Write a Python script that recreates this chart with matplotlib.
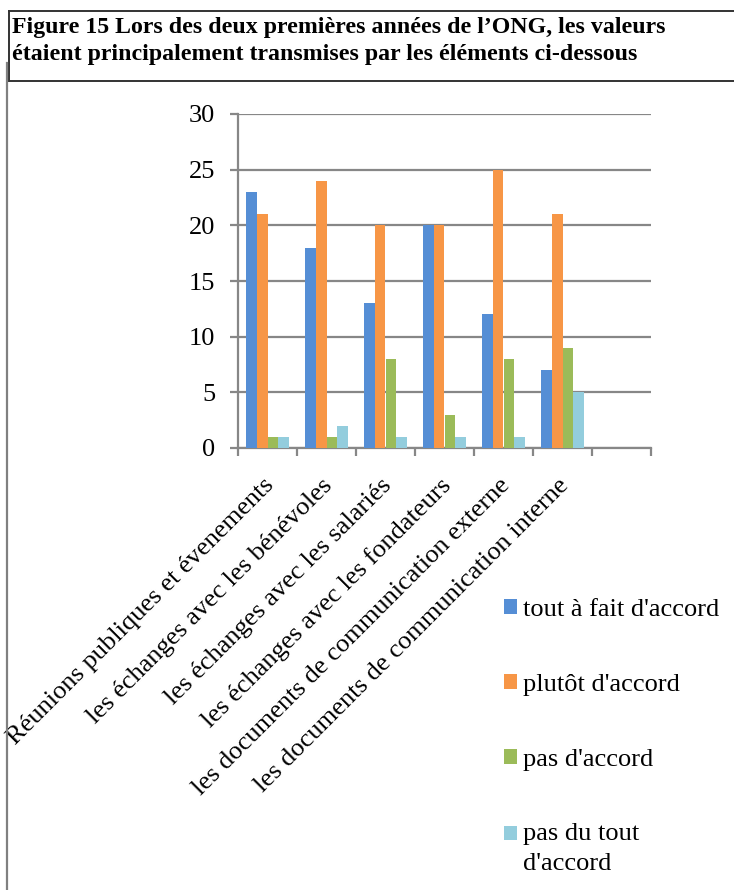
import matplotlib
matplotlib.use("Agg")
import matplotlib.pyplot as plt
from matplotlib.lines import Line2D
from matplotlib.patches import Rectangle
from matplotlib.legend_handler import HandlerPatch
from matplotlib.transforms import ScaledTranslation
import numpy as np

plt.rcParams['font.family'] = ['Liberation Serif', 'DejaVu Serif']

categories = [
    "Réunions publiques et évenements",
    "les échanges avec les bénévoles",
    "les échanges avec les salariés",
    "les échanges avec les fondateurs",
    "les documents de communication externe",
    "les documents de communication interne",
]
series_names = ["tout à fait d'accord", "plutôt d'accord", "pas d'accord",
                "pas du tout\nd'accord"]
tout_a_fait = [23, 18, 13, 20, 12, 7]
plutot = [21, 24, 20, 20, 25, 21]
pas_accord = [1, 1, 8, 3, 8, 9]
pas_du_tout = [1, 2, 1, 1, 1, 5]
series_values = [tout_a_fait, plutot, pas_accord, pas_du_tout]
colors = ["#558ED5", "#F79646", "#9BBB59", "#93CDDD"]
yticks = [0, 5, 10, 15, 20, 25, 30]

W, H = 734, 890
fig = plt.figure(figsize=(W / 100, H / 100), dpi=100)


def fx(px):
    return px / W


def fy(py):
    return 1 - py / H


# title box and page border
fig.add_artist(Line2D([fx(9), fx(740)], [fy(10.7), fy(10.7)], color="#333333", lw=1.4))
fig.add_artist(Line2D([fx(9), fx(740)], [fy(81), fy(81)], color="#333333", lw=1.4))
fig.add_artist(Line2D([fx(9), fx(9)], [fy(10.7), fy(81)], color="#333333", lw=1.4))
fig.add_artist(Line2D([fx(7), fx(7)], [fy(63), fy(895)], color="#808080", lw=1.6))

fig.text(fx(12), fy(33), "Figure 15 Lors des deux premières années de l\u2019ONG, les valeurs",
         fontsize=17.2, fontweight="bold", va="baseline", ha="left")
fig.text(fx(12), fy(60), "étaient principalement transmises par les éléments ci-dessous",
         fontsize=17.2, fontweight="bold", va="baseline", ha="left")

ax = fig.add_axes([238 / W, 1 - 448 / H, (651 - 238) / W, (448 - 114) / H])

n = len(categories)
x = np.arange(n)
w = 0.183
grid_c = "#878787"
for k, (vals, col) in enumerate(zip(series_values, colors)):
    ax.bar(x + (k - 1.5) * w, vals, width=w, color=col, zorder=3)

ax.set_xlim(-0.5, n + 0.5)
ax.set_ylim(0, 30)
ax.set_yticks(yticks)
ax.set_yticklabels([str(v) for v in yticks], fontsize=19)
ax.yaxis.grid(True, color=grid_c, lw=1.6, zorder=0)
ax.set_axisbelow(True)

ax.set_xticks(np.arange(-0.5, n + 1, 1.0))
ax.set_xticklabels([])
ax.set_xticks(x, minor=True)
ax.set_xticklabels(categories, minor=True, rotation=45, ha="right", va="top",
                   rotation_mode="anchor", fontsize=19)
ax.tick_params(axis="x", which="minor", length=0, pad=19)
ax.tick_params(axis="x", which="major", length=5.5, width=1.6, color=grid_c, direction="out")
ax.tick_params(axis="y", which="major", length=5.5, width=1.6, color=grid_c, direction="out", pad=11)
for lab in ax.get_xticklabels(minor=True):
    lab.set_transform(lab.get_transform() + ScaledTranslation(-5 / 100, 0, fig.dpi_scale_trans))

for s in ["top", "right"]:
    ax.spines[s].set_visible(False)
for s in ["left", "bottom"]:
    ax.spines[s].set_color(grid_c)
    ax.spines[s].set_linewidth(1.6)


class ShiftHandler(HandlerPatch):
    def __init__(self, shift=0, **kw):
        super().__init__(**kw)
        self.shift = shift

    def create_artists(self, legend, orig_handle, xdescent, ydescent, width, height,
                       fontsize, trans):
        p = Rectangle((-xdescent, -ydescent + self.shift), width, height,
                      facecolor=orig_handle.get_facecolor(), edgecolor="none")
        p.set_transform(trans)
        return [p]


handles = [Rectangle((0, 0), 1, 1, facecolor=c, edgecolor="none") for c in colors]
hmap = {h: ShiftHandler(0) for h in handles[:3]}
hmap[handles[3]] = ShiftHandler(11)
leg = fig.legend(handles, series_names, loc="upper left",
                 bbox_to_anchor=(504 / W, 1 - 599 / H), frameon=False, fontsize=19,
                 handlelength=0.49, handleheight=0.49, handletextpad=0.23,
                 labelspacing=2.0, borderpad=0, borderaxespad=0, handler_map=hmap)
leg.get_texts()[3].set_linespacing(1.45)

fig.savefig("out.png", dpi=100)
